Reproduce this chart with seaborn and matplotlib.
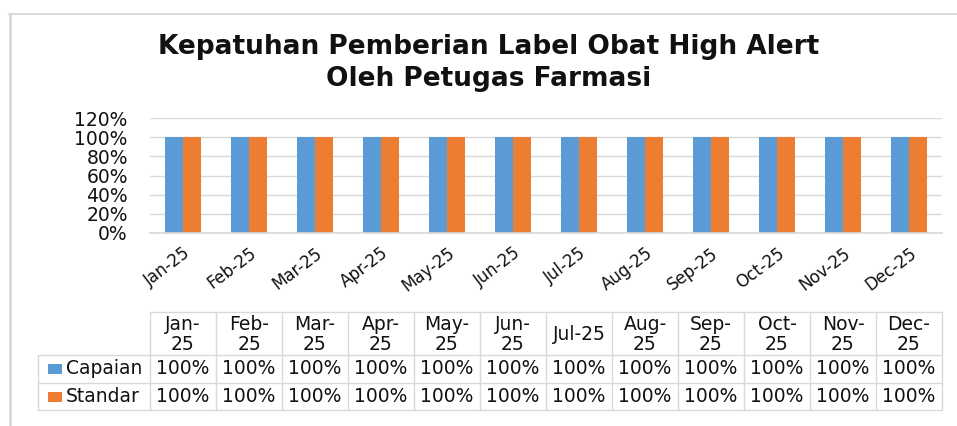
import matplotlib
matplotlib.use("Agg")
import matplotlib.pyplot as plt
import seaborn as sns
import pandas as pd
from matplotlib.lines import Line2D
from matplotlib.patches import Rectangle

months = ["Jan-25", "Feb-25", "Mar-25", "Apr-25", "May-25", "Jun-25",
          "Jul-25", "Aug-25", "Sep-25", "Oct-25", "Nov-25", "Dec-25"]
header_labels = ["Jan-\n25", "Feb-\n25", "Mar-\n25", "Apr-\n25", "May-\n25", "Jun-\n25",
                 "Jul-25", "Aug-\n25", "Sep-\n25", "Oct-\n25", "Nov-\n25", "Dec-\n25"]
capaian = [1.0] * 12
standar = [1.0] * 12
series_names = ["Capaian", "Standar"]
colors = ["#5B9BD5", "#ED7D31"]
title = "Kepatuhan Pemberian Label Obat High Alert\nOleh Petugas Farmasi"

df = pd.DataFrame({
    "Bulan": months * 2,
    "Nilai": capaian + standar,
    "Seri": [series_names[0]] * 12 + [series_names[1]] * 12,
})

sns.set_theme(style="white")
plt.rcParams["font.family"] = ["DejaVu Sans"]

W, H = 957, 426
fig = plt.figure(figsize=(W / 100, H / 100), dpi=100)

def fx(px):
    return px / W

def fy(py):
    return 1 - py / H

TXT = "#111111"
x0, x1 = 150, 942
ytop, ybot = 118, 233
ax = fig.add_axes([fx(x0), fy(ybot), fx(x1 - x0), (ybot - ytop) / H])
sns.barplot(data=df, x="Bulan", y="Nilai", hue="Seri", palette=colors,
            width=0.55, saturation=1, linewidth=0, ax=ax, legend=False)
ax.set_ylim(0, 1.2)
ax.set_xlim(-0.5, 11.5)
ax.set_yticks([0, 0.2, 0.4, 0.6, 0.8, 1.0, 1.2])
ax.set_yticklabels(["0%", "20%", "40%", "60%", "80%", "100%", "120%"],
                   fontsize=13.5, color=TXT)
ax.yaxis.grid(True, color="#d9d9d9", linewidth=1)
ax.set_axisbelow(True)
for s in ["top", "right", "left"]:
    ax.spines[s].set_visible(False)
ax.spines["bottom"].set_color("#d9d9d9")
ax.set_xlabel("")
ax.set_ylabel("")
ax.tick_params(axis="y", length=0, pad=16)
ax.tick_params(axis="x", length=0, pad=8)
ax.set_xticks(range(12))
ax.set_xticklabels(months, rotation=37, ha="right", rotation_mode="anchor",
                   fontsize=12, color=TXT)

# title
fig.text(fx(489), fy(63), title, ha="center", va="center", fontsize=19,
         fontweight="bold", color=TXT, linespacing=1.25)

# border lines
fig.add_artist(Line2D([fx(9), fx(957)], [fy(14), fy(14)], color="#d9d9d9", lw=1.5))
fig.add_artist(Line2D([fx(10), fx(10)], [fy(14), fy(426)], color="#d9d9d9", lw=2))

# data table
col_w = (x1 - x0) / 12
gc = "#d9d9d9"
y_h, y_r1, y_r2, y_r3 = 312, 355, 383, 410
fig.add_artist(Line2D([fx(x0), fx(x1)], [fy(y_h), fy(y_h)], color=gc, lw=1))
for yy in (y_r1, y_r2, y_r3):
    fig.add_artist(Line2D([fx(38), fx(x1)], [fy(yy), fy(yy)], color=gc, lw=1))
for i in range(13):
    xx = x0 + col_w * i
    fig.add_artist(Line2D([fx(xx), fx(xx)], [fy(y_h), fy(y_r3)], color=gc, lw=1))
fig.add_artist(Line2D([fx(38), fx(38)], [fy(y_r1), fy(y_r3)], color=gc, lw=1))

TS = 13.5
for i, lab in enumerate(header_labels):
    xc = x0 + col_w * (i + 0.5)
    fig.text(fx(xc), fy((y_h + y_r1) / 2 + 1), lab, ha="center", va="center",
             fontsize=TS, color=TXT, linespacing=1.0)

rows = [capaian, standar]
for r, (vals, name, col) in enumerate(zip(rows, series_names, colors)):
    yt, yb = (y_r1, y_r2) if r == 0 else (y_r2, y_r3)
    yc = (yt + yb) / 2
    fig.add_artist(Rectangle((fx(48), fy(yc + 5)), fx(14), 10 / H,
                             facecolor=col, edgecolor="none"))
    fig.text(fx(66), fy(yc), name, ha="left", va="center", fontsize=TS,
             color=TXT)
    for i, v in enumerate(vals):
        xc = x0 + col_w * (i + 0.5)
        fig.text(fx(xc), fy(yc), f"{v:.0%}", ha="center", va="center",
                 fontsize=TS, color=TXT)

fig.savefig("out.png", dpi=100, facecolor="white")
